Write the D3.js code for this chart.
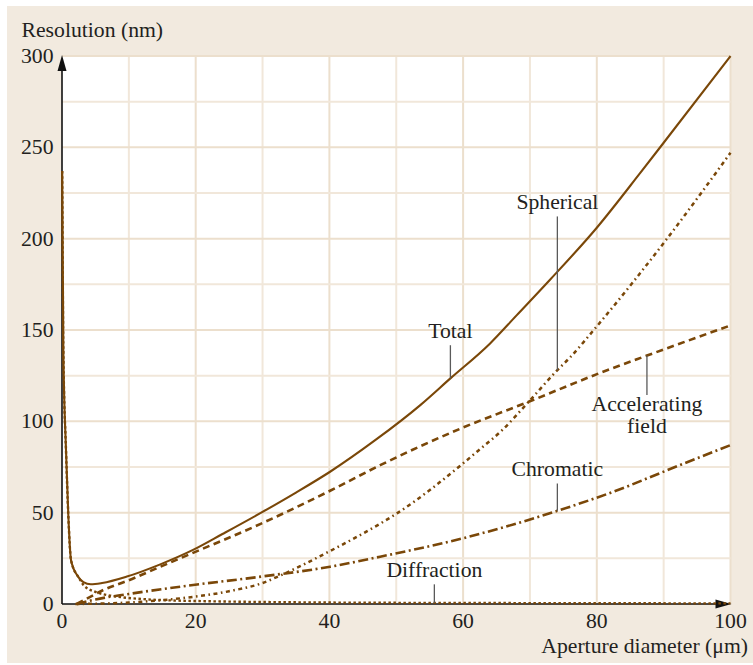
<!DOCTYPE html>
<html>
<head>
<meta charset="utf-8">
<script src="https://cdn.jsdelivr.net/npm/d3@7/dist/d3.min.js"></script>
<style>
  html, body { margin: 0; padding: 0; background: #ffffff; }
  svg { display: block; }
  text { font-family: "Liberation Serif", "Times New Roman", serif; fill: #231f20; }
</style>
</head>
<body>
<svg id="chart" width="753" height="665"></svg>
<script>
// Resolution contributions versus aperture diameter (d in µm, resolution in nm)
const xTicks = [0, 20, 40, 60, 80, 100];
const yTicks = [0, 50, 100, 150, 200, 250, 300];

const totalD = [0.03, 0.2, 0.6, 0.95, 1.35, 2.4, 3.2, 4.3, 6, 9.7, 14.7, 19.6, 24, 29.8, 35, 40.1, 46.9, 53.6, 58.1, 64, 68, 73, 80, 86.5, 90, 100];
const totalV = [237, 139, 84, 48, 24, 15, 12, 10.8, 11.5, 15, 21.7, 29.6, 38.3, 50, 61, 72.4, 89.8, 108.9, 123.5, 142.5, 158, 177.5, 206, 236, 252.5, 300];

const accelD = [2.2, 4, 6.2, 10, 14.7, 19.6, 29.8, 40.1, 47.6, 59.6, 69.8, 80.5, 87.5, 100];
const accelV = [0, 3.5, 7.7, 13, 20.4, 28, 44, 62, 76, 96, 110.7, 126.5, 136, 152.5];

const spherD = [2, 10, 17.7, 25, 30, 32.6, 40.1, 47.6, 50.1, 60, 62.6, 65.8, 69.8, 74.1, 76, 80, 90.4, 100];
const spherV = [0, 0.8, 3.1, 7, 11.5, 15.5, 29, 44, 49.6, 77, 85, 95, 110.7, 128, 135, 152, 199.5, 247];

const chromD = [2.2, 5, 10, 17.7, 29.8, 40.1, 47.6, 60, 74.1, 85, 87, 100];
const chromV = [0, 2.5, 5.5, 9.5, 15, 20.4, 25.9, 36, 51, 65, 68, 87];

const diffrD = [0.03, 0.2, 0.6, 0.95, 1.35, 2.4, 2.9, 3.2, 5, 7.2, 8.7, 12, 16, 22, 30, 45, 56, 75, 100];
const diffrV = [237, 139, 84, 48, 24, 15, 12.2, 10.4, 6.6, 4.6, 3.8, 2.7, 2, 1.5, 1.1, 0.7, 0.6, 0.45, 0.33];

const series = [
  { name: "Total",        d: totalD, v: totalV, dash: null,            width: 2.1 },
  { name: "Accelerating", d: accelD, v: accelV, dash: "7,4.5",         width: 2.6 },
  { name: "Spherical",    d: spherD, v: spherV, dash: "4,3.5,1.6,3.5", width: 2.5 },
  { name: "Chromatic",    d: chromD, v: chromV, dash: "10,3.5,2,3.5",  width: 2.6 },
  { name: "Diffraction",  d: diffrD, v: diffrV, dash: "2.5,2.5",       width: 2.4 }
];

// Labels with leader lines: attach at aperture `at` on series `ref`; label baseline in nm units
const annotations = [
  { ref: "Spherical",    at: 74.1, lines: ["Spherical"],              labelV: 216,   side: "above" },
  { ref: "Total",        at: 58.1, lines: ["Total"],                  labelV: 145.5, side: "above" },
  { ref: "Accelerating", at: 87.5, lines: ["Accelerating", "field"],  labelV: 105.6, side: "below" },
  { ref: "Chromatic",    at: 74.1, lines: ["Chromatic"],              labelV: 69.8,  side: "above" },
  { ref: "Diffraction",  at: 55.7, lines: ["Diffraction"],            labelV: 14.6,  side: "above" }
];

const brown = "#7a4708";
const fontSize = 21.7;
const svg = d3.select("#chart");

const x = d3.scaleLinear().domain([0, 100]).range([62, 730.5]);
const y = d3.scaleLinear().domain([0, 300]).range([604, 56]);

// panel background
svg.append("rect").attr("x", 7).attr("y", 6).attr("width", 746).attr("height", 657).attr("fill", "#f2eadf");
svg.append("rect").attr("x", x(0)).attr("y", y(300)).attr("width", x(100) - x(0) + 0.5).attr("height", y(0) - y(300)).attr("fill", "#ffffff");

// grid
const grid = svg.append("g");
d3.range(10, 101, 10).forEach(d => {
  grid.append("line").attr("x1", x(d)).attr("x2", x(d)).attr("y1", y(0)).attr("y2", y(300))
    .attr("stroke", d % 20 === 0 ? "#ecdfcd" : "#f1e7da").attr("stroke-width", 2);
});
d3.range(25, 301, 25).forEach(v => {
  grid.append("line").attr("x1", x(0)).attr("x2", x(100)).attr("y1", y(v)).attr("y2", y(v))
    .attr("stroke", v % 50 === 0 ? "#ecdfcd" : "#f1e7da").attr("stroke-width", 2);
});

// axes
const axes = svg.append("g");
axes.append("line").attr("x1", x(0)).attr("x2", x(0)).attr("y1", y(0)).attr("y2", y(300) + 8)
  .attr("stroke", "#111").attr("stroke-width", 1.6);
axes.append("line").attr("x1", x(0)).attr("x2", x(100) - 8).attr("y1", y(0)).attr("y2", y(0))
  .attr("stroke", "#111").attr("stroke-width", 1.6);
axes.append("path").attr("d", `M${x(0)},${y(300) - 1} L${x(0) - 4.5},${y(300) + 15} L${x(0) + 4.5},${y(300) + 15} Z`).attr("fill", "#111");
axes.append("path").attr("d", `M${x(100) + 1},${y(0)} L${x(100) - 15},${y(0) - 4.5} L${x(100) - 15},${y(0) + 4.5} Z`).attr("fill", "#111");

// tick labels
svg.append("g").selectAll("text").data(yTicks).join("text")
  .attr("x", x(0) - 8.5).attr("y", v => y(v) + 7).attr("text-anchor", "end")
  .attr("font-size", fontSize).text(v => v);
svg.append("g").selectAll("text").data(xTicks).join("text")
  .attr("x", d => x(d)).attr("y", y(0) + 24).attr("text-anchor", "middle")
  .attr("font-size", fontSize).text(d => d);

// axis titles
svg.append("text").attr("x", 21.5).attr("y", 36.5).attr("font-size", fontSize).text("Resolution (nm)");
svg.append("text").attr("x", 748).attr("y", 653).attr("text-anchor", "end").attr("font-size", fontSize).text("Aperture diameter (μm)");

// curves
const line = d3.line().x(p => x(p[0])).y(p => y(p[1])).curve(d3.curveMonotoneX);
const curves = svg.append("g");
series.slice().reverse().forEach(s => {
  const pts = s.d.map((d, i) => [d, s.v[i]]);
  const p = curves.append("path").attr("d", line(pts)).attr("fill", "none")
    .attr("stroke", brown).attr("stroke-width", s.width).attr("stroke-linejoin", "round");
  if (s.dash) p.attr("stroke-dasharray", s.dash);
});

// value of a series at aperture d (linear between stored points)
function valueAt(s, d) {
  const i = Math.max(1, Math.min(s.d.length - 1, d3.bisectLeft(s.d, d)));
  const t = (d - s.d[i - 1]) / (s.d[i] - s.d[i - 1]);
  return s.v[i - 1] + t * (s.v[i] - s.v[i - 1]);
}

// annotations
const ann = svg.append("g");
annotations.forEach(a => {
  const s = series.find(q => q.name === a.ref);
  const px = x(a.at), py = y(valueAt(s, a.at));
  const base = y(a.labelV);
  const t = ann.append("text").attr("x", px).attr("y", base).attr("text-anchor", "middle").attr("font-size", fontSize);
  a.lines.forEach((ln, i) => t.append("tspan").attr("x", px).attr("dy", i === 0 ? 0 : 22).text(ln));
  const y1 = a.side === "above" ? base + 7 : base - 16;
  ann.append("line").attr("x1", px).attr("x2", px).attr("y1", y1).attr("y2", py)
    .attr("stroke", "#5a5a5a").attr("stroke-width", 1.3);
});
</script>
</body>
</html>
